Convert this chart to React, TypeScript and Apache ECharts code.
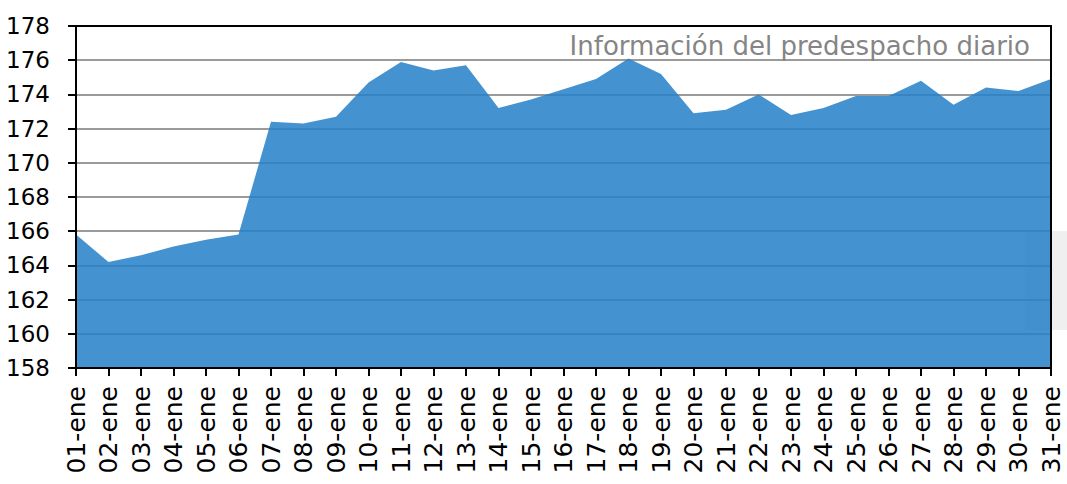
import React, { useEffect, useRef } from "react";
import * as echarts from "echarts";

const categories = [
  "01-ene", "02-ene", "03-ene", "04-ene", "05-ene", "06-ene", "07-ene", "08-ene",
  "09-ene", "10-ene", "11-ene", "12-ene", "13-ene", "14-ene", "15-ene", "16-ene",
  "17-ene", "18-ene", "19-ene", "20-ene", "21-ene", "22-ene", "23-ene", "24-ene",
  "25-ene", "26-ene", "27-ene", "28-ene", "29-ene", "30-ene", "31-ene",
];

const values = [
  165.8, 164.2, 164.6, 165.1, 165.5, 165.8, 172.4, 172.3,
  172.7, 174.7, 175.9, 175.4, 175.7, 173.2, 173.7, 174.3,
  174.9, 176.1, 175.2, 172.9, 173.1, 174.0, 172.8, 173.2,
  173.9, 173.9, 174.8, 173.4, 174.4, 174.2, 174.9,
];

const titleText = "Información del predespacho diario";
const yMin = 158;
const yMax = 178;
const yStep = 2;

const FONT = "'DejaVu Sans', sans-serif";

export default function App() {
  const ref = useRef<HTMLDivElement>(null);

  useEffect(() => {
    if (!ref.current) return;
    const chart = echarts.init(ref.current, undefined, { renderer: "svg" });
    const black = { show: true, lineStyle: { color: "#000", width: 2 } };
    chart.setOption({
      animation: false,
      backgroundColor: "#fff",
      title: {
        text: titleText,
        right: 37,
        top: 33,
        padding: 0,
        textStyle: { fontFamily: FONT, fontSize: 26, fontWeight: "normal", color: "#858585" },
      },
      graphic: [
        {
          type: "rect",
          z: 0,
          shape: { x: 1025, y: 231, width: 42, height: 99 },
          style: { fill: "#EFEFEF" },
        },
      ],
      grid: { left: 76, right: 16, top: 26, bottom: 116, containLabel: false },
      xAxis: [
        {
          type: "category",
          data: categories,
          boundaryGap: false,
          position: "bottom",
          z: 10,
          axisLine: black,
          axisTick: { show: true, length: 8, lineStyle: { color: "#000", width: 2 } },
          axisLabel: {
            interval: 0,
            rotate: 90,
            margin: 18,
            fontFamily: FONT,
            fontSize: 25,
            color: "#000",
          },
          splitLine: { show: false },
        },
        {
          type: "category",
          data: categories,
          boundaryGap: false,
          position: "top",
          z: 10,
          axisLine: black,
          axisTick: { show: false },
          axisLabel: { show: false },
          splitLine: { show: false },
        },
      ],
      yAxis: [
        {
          type: "value",
          min: yMin,
          max: yMax,
          interval: yStep,
          position: "left",
          axisLine: { show: false },
          axisTick: { show: false },
          axisLabel: { show: false },
          splitLine: { show: true, lineStyle: { color: "#9A9A9A", width: 2 } },
        },
        {
          type: "value",
          min: yMin,
          max: yMax,
          interval: yStep,
          position: "left",
          z: 10,
          axisLine: black,
          axisTick: { show: true, length: 8, lineStyle: { color: "#000", width: 2 } },
          axisLabel: { margin: 26, fontFamily: FONT, fontSize: 23, color: "#000" },
          splitLine: { show: false },
        },
        {
          type: "value",
          min: yMin,
          max: yMax,
          interval: yStep,
          position: "right",
          z: 10,
          axisLine: black,
          axisTick: { show: false },
          axisLabel: { show: false },
          splitLine: { show: false },
        },
      ],
      series: [
        {
          type: "line",
          data: values,
          xAxisIndex: 0,
          yAxisIndex: 0,
          showSymbol: false,
          symbol: "none",
          lineStyle: { width: 0, opacity: 0 },
          areaStyle: { color: "#2580C8", opacity: 0.86 },
          z: 2,
        },
      ],
    });
    return () => chart.dispose();
  }, []);

  return (
    <div
      ref={ref}
      style={{ position: "fixed", left: 0, top: 0, width: 1067, height: 484 }}
    />
  );
}
